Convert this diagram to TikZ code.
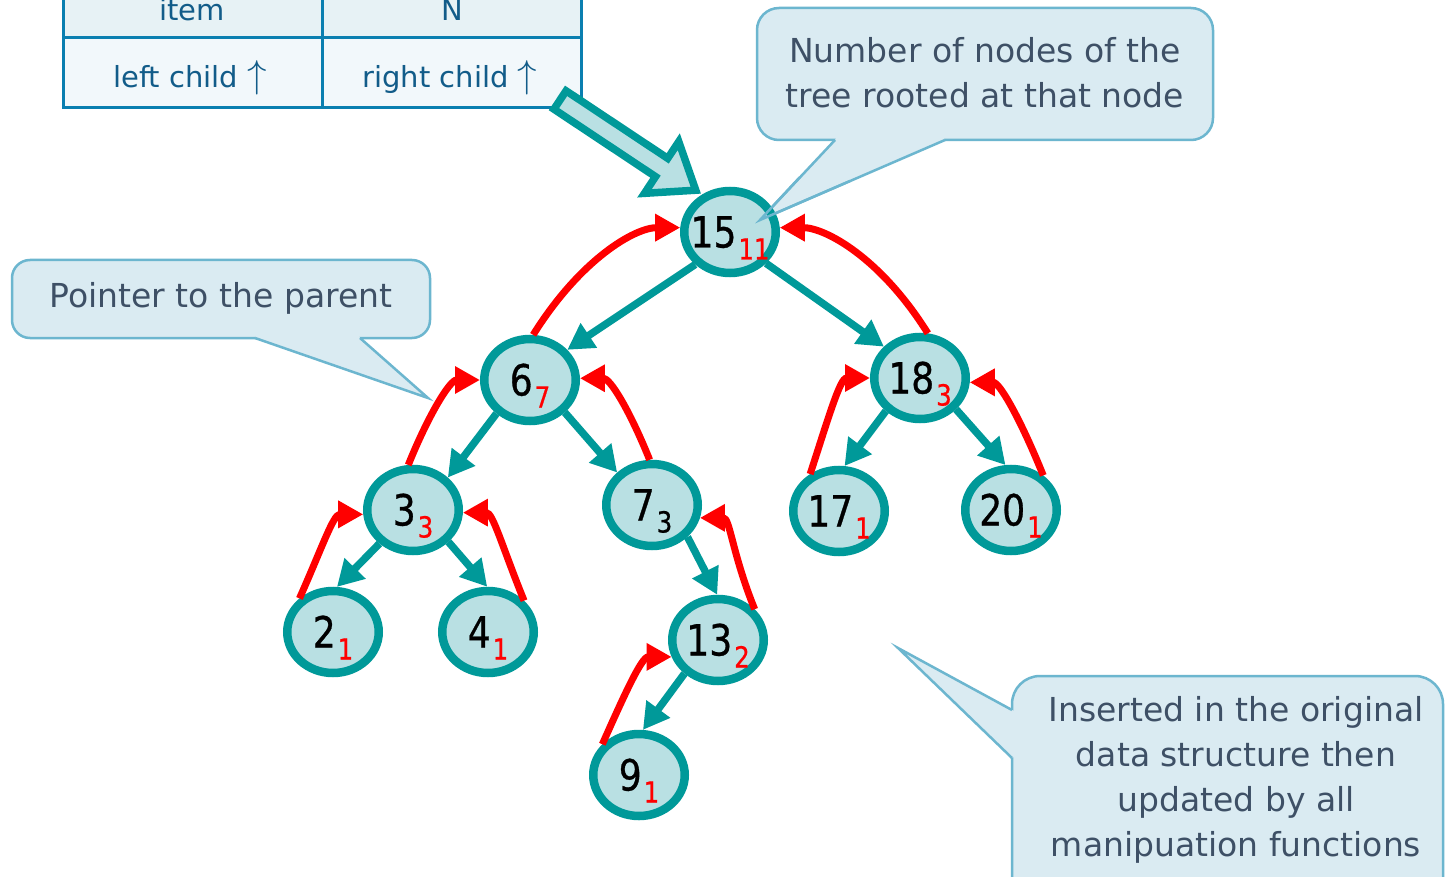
\documentclass[tikz,border=0pt]{standalone}
\usepackage{fontspec}
\setmainfont{DejaVu Sans}
\newfontfamily\numfont[FakeStretch=0.84,FakeBold=0.7]{DejaVu Sans}
\usetikzlibrary{shapes.geometric,arrows.meta}

\definecolor{nodeline}{RGB}{0,153,153}
\definecolor{nodefill}{RGB}{185,224,227}
\definecolor{tipfill}{RGB}{185,224,227}
\definecolor{calloutfill}{RGB}{218,235,242}
\definecolor{calloutline}{RGB}{108,182,207}
\definecolor{callouttext}{RGB}{62,80,102}
\definecolor{tableline}{RGB}{10,127,176}
\definecolor{tabletext}{RGB}{18,92,137}
\definecolor{rowone}{RGB}{231,242,245}
\definecolor{rowtwo}{RGB}{242,248,251}

% key with its subtree size as a subscript
\newcommand\keyval[3][red]{\makebox[0pt]{#2\hspace{2pt}\raisebox{-12pt}{\fontsize{29}{29}\selectfont\color{#1}#3}}}
% tall thin pointer arrow in the record cells
\newcommand\ptrarrow{\resizebox{!}{27pt}{$\uparrow$}}

\tikzset{
  x=1pt, y=1pt,
  tnode/.style={ellipse, draw=nodeline, fill=nodefill, line width=8.5pt,
    minimum width=91.5pt, minimum height=82pt, inner sep=0pt,
    text height=31pt, text depth=0pt,
    font=\numfont\fontsize{43}{43}\selectfont},
  childarrow/.style={draw=nodeline, line width=7.5pt,
    -{Triangle[length=26pt,width=28pt]}},
  parentarrow/.style={draw=red, line width=7pt,
    -{Triangle[length=25pt,width=26pt]}},
  calloutbox/.style={fill=calloutfill, draw=calloutline, line width=2.5pt},
  calloutedge/.style={draw=calloutline, line width=2.5pt, line join=miter},
  callouttxt/.style={text=callouttext, align=center,
    font=\fontsize{33}{45}\selectfont},
  celltxt/.style={text=tabletext, font=\fontsize{29}{34}\selectfont},
}

\begin{document}
\begin{tikzpicture}
\useasboundingbox (0,0) rectangle (1445,-877);
\clip (0,0) rectangle (1445,-877);
\fill[white] (0,0) rectangle (1445,-877);

% node record layout
\fill[rowone] (63,20) rectangle (581,-38);
\fill[rowtwo] (63,-38) rectangle (581,-108);
\draw[tableline, line width=3pt] (63,20) -- (63,-108) -- (581,-108) -- (581,20);
\draw[tableline, line width=3pt] (322,20) -- (322,-108);
\draw[tableline, line width=3pt] (63,-38) -- (581,-38);
\node[celltxt] (citem) at (192,-10) {item};
\node[celltxt] (cn) at (452,-10) {N};
\node[celltxt] (cleft) at (190,-78) {left child \ptrarrow};
\node[celltxt] (cright) at (450,-78) {right child \ptrarrow};

% callout: subtree size
\draw[calloutbox, rounded corners=22pt] (757,-8) rectangle (1213,-140);
\fill[calloutfill] (835,-140) -- (760,-220) -- (945,-140) -- (943,-136) -- (837,-136) -- cycle;
\draw[calloutedge] (835,-140) -- (760,-220) -- (945,-140);
\node[callouttxt] (c1) at (985,-73) {Number of nodes of the\\tree rooted at that node};

% callout: parent pointer
\draw[calloutbox, rounded corners=18pt] (12,-260) rectangle (430,-338);
\fill[calloutfill] (255,-338) -- (428,-398) -- (360,-338) -- (358,-334) -- (257,-334) -- cycle;
\draw[calloutedge] (255,-338) -- (428,-398) -- (360,-338);
\node[callouttxt] (c2) at (221,-298) {Pointer to the parent};

% callout: maintenance of N
\draw[calloutbox, rounded corners=28pt] (1012,-676) rectangle (1443,-910);
\fill[calloutfill] (1012,-710) -- (898,-648) -- (1012,-758) -- (1016,-756) -- (1016,-712) -- cycle;
\draw[calloutedge] (1012,-710) -- (898,-648) -- (1012,-758);
\node[callouttxt] (c3) at (1236,-780) {Inserted in the original\\data structure then\\updated by all\\manipuation functions};

% tree nodes
\node[tnode] (n15) at (730,-232) {\keyval{15}{11}};
\node[tnode] (n6)  at (530,-380) {\keyval{6}{7}};
\node[tnode] (n18) at (920,-378) {\keyval{18}{3}};
\node[tnode] (n3)  at (413,-510) {\keyval{3}{3}};
\node[tnode] (n7)  at (652,-505) {\keyval[black]{7}{3}};
\node[tnode] (n17) at (839,-511) {\keyval{17}{1}};
\node[tnode] (n20) at (1011,-510) {\keyval{20}{1}};
\node[tnode] (n2)  at (333,-632) {\keyval{2}{1}};
\node[tnode] (n4)  at (488,-632) {\keyval{4}{1}};
\node[tnode] (n13) at (718,-640) {\keyval{13}{2}};
\node[tnode] (n9)  at (639,-775) {\keyval{9}{1}};

% child pointers
\draw[childarrow] (n15.223) -- (n6.39);
\draw[childarrow] (n15.319) -- (n18.139);
\draw[childarrow] (n6.225) -- (n3.43);
\draw[childarrow] (n6.317) -- (n7.137);
\draw[childarrow] (n3.225) -- (n2.85);
\draw[childarrow] (n3.318) -- (n4.91);
\draw[childarrow] (n7.318) -- (n13.91);
\draw[childarrow] (n18.224) -- (n17.83);
\draw[childarrow] (n18.319) -- (n20.97);
\draw[childarrow] (n13.225) -- (n9.85);

% parent pointers
\draw[parentarrow] (n6.86)   .. controls +(58:90)  and +(180:45) .. (n15.175);
\draw[parentarrow] (n18.80)  .. controls +(122:90) and +(0:45)   .. (n15.5);
\draw[parentarrow] (n3.96)   .. controls +(68:55)  and +(180:30) .. (n6.180);
\draw[parentarrow] (n7.93)   .. controls +(112:55) and +(0:30)   .. (n6.2);
\draw[parentarrow] (n2.135)  .. controls +(66:55)  and +(180:30) .. (n3.185);
\draw[parentarrow] (n4.41)   .. controls +(112:60) and +(0:30)   .. (n3.357);
\draw[parentarrow] (n13.40)  .. controls +(112:60) and +(0:30)   .. (n7.345);
\draw[parentarrow] (n9.140)  .. controls +(66:55)  and +(180:30) .. (n13.200);
\draw[parentarrow] (n17.128) .. controls +(72:60)  and +(180:30) .. (n18.180);
\draw[parentarrow] (n20.47)  .. controls +(112:60) and +(0:30)   .. (n18.355);

% pointer edges of the top callout over the root
\draw[calloutedge] (800,-177) -- (760,-220) -- (850,-181);

% block arrow from the record to the root
\begin{scope}[shift={(560,-100)}, rotate=-33.6]
  \draw[nodeline, fill=tipfill, line width=7.5pt, line join=miter]
    (0,11) -- (122,11) -- (122,31) -- (163,0) -- (122,-31) -- (122,-11) -- (0,-11) -- cycle;
\end{scope}
\end{tikzpicture}
\end{document}
